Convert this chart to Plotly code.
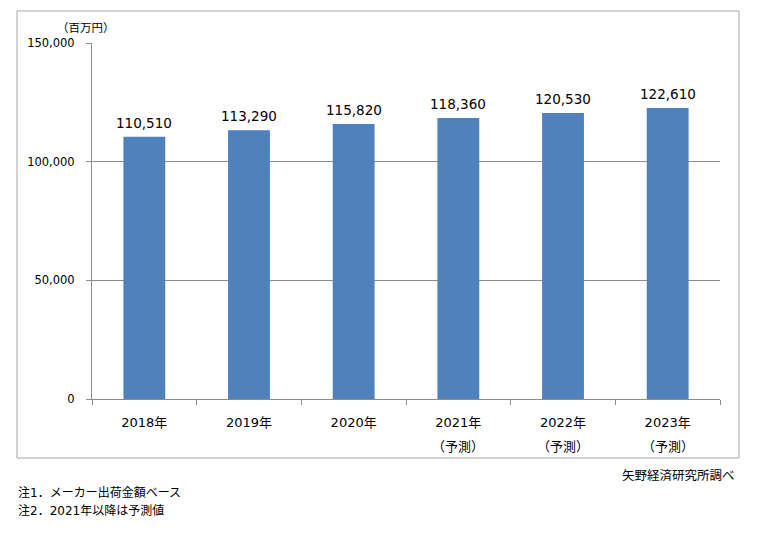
import plotly.graph_objects as go

# data
years = ["2018年", "2019年", "2020年", "2021年", "2022年", "2023年"]
values = [110510, 113290, 115820, 118360, 120530, 122610]
forecast = [False, False, False, True, True, True]
unit_label = "（百万円）"
source_note = "矢野経済研究所調べ"
notes = ["注1．メーカー出荷金額ベース", "注2．2021年以降は予測値"]

# page has an 8px body margin, so the figure starts at (8, 8)
OFF = 8
W, H = 752, 550
L, T = 92 - OFF, 43 - OFF
R, B = W - (720 - OFF), H - (399 - OFF)
pw, ph = W - L - R, H - T - B


def px(x):
    return (x - OFF - L) / pw


def py(y):
    return (H - B - (y - OFF)) / ph


font = "DejaVu Sans, Noto Sans CJK JP, sans-serif"
grid = "#8c8c8c"

fig = go.Figure()
fig.add_trace(go.Bar(
    x=years, y=values,
    marker_color="#4f81bd", marker_line_width=0,
    width=0.4,
))

for yr, v in zip(years, values):
    fig.add_annotation(x=yr, y=v, text=f"{v:,}", showarrow=False,
                       yanchor="bottom", yshift=4,
                       font=dict(size=13.5, color="#000"))

fig.update_layout(
    width=W, height=H,
    margin=dict(l=L, r=R, t=T, b=B),
    paper_bgcolor="white", plot_bgcolor="white",
    font=dict(family=font, color="#000"),
    showlegend=False,
    bargap=0.6,
)
fig.update_xaxes(
    showline=True, linecolor=grid, linewidth=1,
    ticks="outside", tickson="boundaries", ticklen=5, tickcolor=grid,
    tickfont=dict(size=13), showgrid=False, ticklabelstandoff=11,
)
fig.update_yaxes(
    range=[0, 150000], dtick=50000, tickformat=",",
    showline=True, linecolor=grid, linewidth=1,
    ticks="outside", ticklen=5, tickcolor=grid,
    showgrid=True, gridcolor=grid, gridwidth=1,
    tickfont=dict(size=11.5), zeroline=False, ticklabelstandoff=9,
)

# outer frame
fig.add_shape(type="rect", xref="paper", yref="paper",
              x0=px(17), x1=px(739), y0=py(458), y1=py(11),
              line=dict(color="#a6a6a6", width=1))

# forecast markers under the category labels
for yr, f in zip(years, forecast):
    if f:
        fig.add_annotation(x=yr, xref="x", y=py(446), yref="paper",
                           text="（予測）", showarrow=False,
                           font=dict(size=13), yanchor="middle")

fig.add_annotation(x=px(55), y=py(28), xref="paper", yref="paper",
                   text=unit_label, showarrow=False, xanchor="left",
                   yanchor="middle", font=dict(size=11.5))
fig.add_annotation(x=px(737), y=py(475), xref="paper", yref="paper",
                   text=source_note, showarrow=False, xanchor="right",
                   yanchor="middle", font=dict(size=12.5))
for i, n in enumerate(notes):
    fig.add_annotation(x=px(16), y=py(493 + 18 * i), xref="paper", yref="paper",
                       text=n, showarrow=False, xanchor="left",
                       yanchor="middle", font=dict(size=12))

fig.write_html("out.html")
